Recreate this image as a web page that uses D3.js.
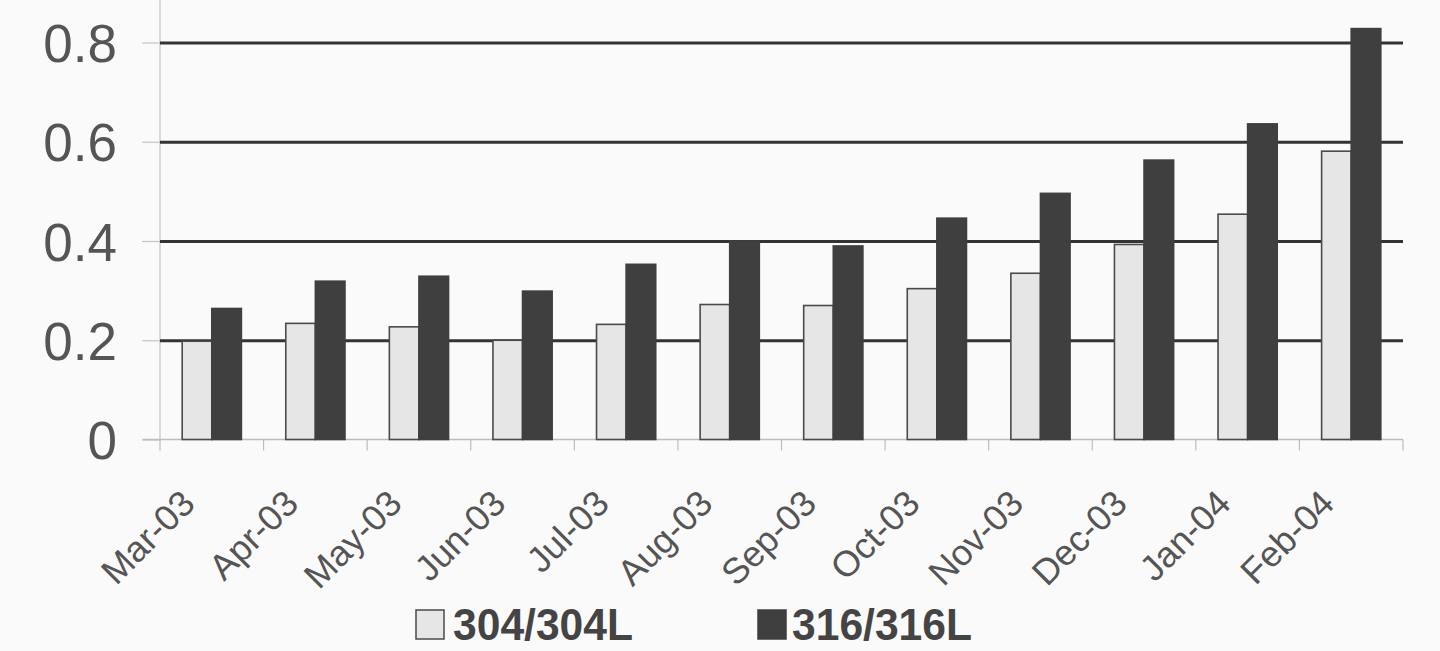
<!DOCTYPE html>
<html>
<head>
<meta charset="utf-8">
<script src="https://cdn.jsdelivr.net/npm/d3@7"></script>
<style>
  html, body { margin: 0; padding: 0; background: #fafafa; }
  svg { display: block; }
</style>
</head>
<body>
<svg id="chart" width="1440" height="651"></svg>
<script>
// ---- data ----
const months = ["Mar-03","Apr-03","May-03","Jun-03","Jul-03","Aug-03","Sep-03","Oct-03","Nov-03","Dec-03","Jan-04","Feb-04"];
const seriesNames = ["304/304L","316/316L"];
const values304 = [0.198, 0.234, 0.227, 0.200, 0.232, 0.272, 0.270, 0.304, 0.335, 0.393, 0.454, 0.581];
const values316 = [0.264, 0.319, 0.329, 0.299, 0.353, 0.400, 0.390, 0.446, 0.496, 0.563, 0.636, 0.828];
const yTicks = [0, 0.2, 0.4, 0.6, 0.8];

const seriesValues = { "304/304L": values304, "316/316L": values316 };
const fills = { "304/304L": "#e6e6e6", "316/316L": "#3f3f3f" };
const strokes = { "304/304L": "#4a4a4a", "316/316L": "#3f3f3f" };

const svg = d3.select("#chart");
const plotLeft = 160, plotRight = 1403, plotTop = 42.5, plotBottom = 439.5;

const x0 = d3.scaleBand().domain(months).range([plotLeft, plotRight]).paddingInner(0).paddingOuter(0);
const x1 = d3.scaleBand().domain(seriesNames).range([0, x0.bandwidth()]).paddingInner(0).paddingOuter(0.75);
const y = d3.scaleLinear().domain([0, 0.8]).range([plotBottom, plotTop]);

// vertical axis line (light)
svg.append("line")
  .attr("x1", plotLeft).attr("x2", plotLeft).attr("y1", 0).attr("y2", plotBottom)
  .attr("stroke", "#c4c4c4").attr("stroke-width", 1.2);

// gridlines
const grid = svg.append("g").attr("transform", `translate(${plotLeft},0)`)
  .call(d3.axisLeft(y).tickValues(yTicks.filter(d => d > 0)).tickSize(-(plotRight - plotLeft)).tickFormat(""));
grid.select(".domain").remove();
grid.selectAll("line").attr("stroke", "#333").attr("stroke-width", 3);

// left axis labels + small ticks
const yAxis = svg.append("g").attr("transform", `translate(${plotLeft},0)`)
  .call(d3.axisLeft(y).tickValues(yTicks).tickSize(18).tickPadding(25)
    .tickFormat(d => d === 0 ? "0" : d3.format(".1f")(d)));
yAxis.select(".domain").remove();
yAxis.selectAll("line").attr("stroke", "#c4c4c4").attr("stroke-width", 1.2);
yAxis.selectAll("text")
  .attr("font-family", "'Liberation Sans', Arial, sans-serif")
  .attr("font-size", 53).attr("fill", "#555").attr("dy", "0.36em");

// bottom axis line and boundary ticks
svg.append("line")
  .attr("x1", 143).attr("x2", plotRight).attr("y1", plotBottom).attr("y2", plotBottom)
  .attr("stroke", "#bdbdbd").attr("stroke-width", 1.5);
const bounds = months.map(m => x0(m)).concat([plotRight]);
svg.append("g").selectAll("line").data(bounds).join("line")
  .attr("x1", d => d).attr("x2", d => d)
  .attr("y1", plotBottom).attr("y2", plotBottom + 11)
  .attr("stroke", "#bdbdbd").attr("stroke-width", 1.2);

// bars
const groups = svg.append("g").selectAll("g").data(months).join("g")
  .attr("transform", d => `translate(${x0(d)},0)`);
groups.selectAll("rect")
  .data((m, i) => seriesNames.map(s => ({ s, v: seriesValues[s][i] })))
  .join("rect")
  .attr("x", d => x1(d.s))
  .attr("width", x1.bandwidth())
  .attr("y", d => y(d.v))
  .attr("height", d => y(0) - y(d.v))
  .attr("fill", d => fills[d.s])
  .attr("stroke", d => strokes[d.s])
  .attr("stroke-width", 1.6);

// x labels
const xAxis = svg.append("g").attr("transform", `translate(0,${plotBottom})`)
  .call(d3.axisBottom(x0).tickSize(0));
xAxis.select(".domain").remove();
xAxis.selectAll("text")
  .attr("x", 0).attr("y", 0).attr("dy", 0)
  .attr("text-anchor", "end")
  .attr("transform", "translate(-15,66) rotate(-45)")
  .attr("font-family", "'Liberation Sans', Arial, sans-serif")
  .attr("font-size", 36).attr("fill", "#555");

// legend
const legend = [
  { s: "304/304L", bx: 416, tx: 453 },
  { s: "316/316L", bx: 758, tx: 792 }
];
const lg = svg.append("g").selectAll("g").data(legend).join("g");
lg.append("rect")
  .attr("x", d => d.bx).attr("y", 610).attr("width", 28).attr("height", 29)
  .attr("fill", d => fills[d.s]).attr("stroke", d => strokes[d.s]).attr("stroke-width", 1.5);
lg.append("text")
  .attr("x", d => d.tx).attr("y", 640)
  .attr("font-family", "'Liberation Sans', Arial, sans-serif")
  .attr("font-weight", "bold").attr("font-size", 44)
  .attr("textLength", 180).attr("lengthAdjust", "spacingAndGlyphs")
  .attr("fill", "#444")
  .text(d => d.s);
</script>
</body>
</html>
